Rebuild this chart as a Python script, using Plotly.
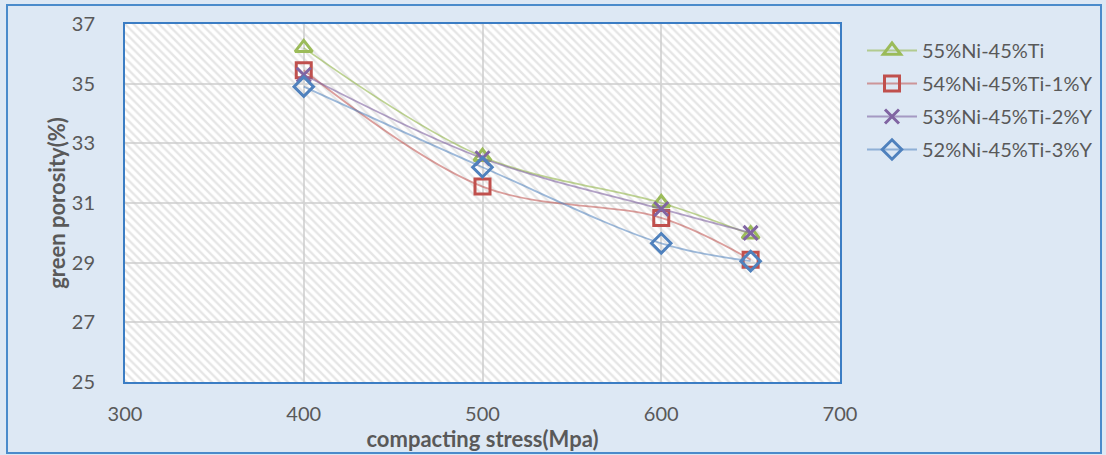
import plotly.graph_objects as go

stress = [400, 500, 600, 650]
s55 = [36.2, 32.55, 31.0, 29.95]
s54 = [35.45, 31.55, 30.5, 29.1]
s53 = [35.3, 32.5, 30.8, 30.0]
s52 = [34.9, 32.2, 29.65, 29.05]
names = ["55%Ni-45%Ti", "54%Ni-45%Ti-1%Y", "53%Ni-45%Ti-2%Y", "52%Ni-45%Ti-3%Y"]

X_RANGE = [300, 700]
Y_RANGE = [25, 37]
X_TICKS = [300, 400, 500, 600, 700]
Y_TICKS = [25, 27, 29, 31, 33, 35, 37]

W, H = 1106, 455
L, R, T, B = 125, 266, 24, 73
pw, ph = W - L - R, H - T - B

FONT = "Lato"
fig = go.Figure()

# hatched plot background
fig.add_trace(go.Bar(
    x=[(X_RANGE[0] + X_RANGE[1]) / 2], y=[Y_RANGE[1] - Y_RANGE[0]], base=[Y_RANGE[0]],
    width=[X_RANGE[1] - X_RANGE[0]],
    marker=dict(color="rgba(0,0,0,0)", line=dict(width=0),
                pattern=dict(shape="\\", fgcolor="#cccccc", size=6, solidity=0.4)),
    showlegend=False, hoverinfo="skip"))

series = [
    (s55, "#9bbb59", "rgba(155,187,89,0.65)", "triangle-up-open", 15),
    (s54, "#c0504d", "rgba(192,80,77,0.55)", "square-open", 15),
    (s53, "#8064a2", "rgba(128,100,162,0.6)", "x-thin-open", 14),
    (s52, "#4f81bd", "rgba(79,129,189,0.55)", "diamond-open", 15),
]
for i, ((vals, mc, lc, sym, sz), nm) in enumerate(zip(series, names)):
    fig.add_trace(go.Scatter(
        x=stress, y=vals, name=nm, mode="lines+markers", legendgroup=f"g{i}",
        line=dict(color=lc, width=1.8, shape="spline", smoothing=1.0),
        marker=dict(symbol=sym, size=sz, color=mc, line=dict(color=mc, width=3)),
    ))

fig.update_layout(
    width=W, height=H,
    margin=dict(l=L, r=R, t=T, b=B, pad=0, autoexpand=False),
    paper_bgcolor="#dde8f4", plot_bgcolor="white",
    font=dict(family=FONT, size=20, color="#595959"),
    showlegend=True,
    legend=dict(x=862 / W, y=1 - 31 / H, xref="container", yref="container",
                xanchor="left", yanchor="top",
                bgcolor="rgba(0,0,0,0)", font=dict(size=20, color="#595959"),
                itemwidth=50, tracegroupgap=4),
    bargap=0,
)
fig.update_xaxes(range=X_RANGE, tickvals=X_TICKS, showgrid=True, gridcolor="#d9d9d9", gridwidth=1.5,
                 showline=True, mirror=True, linecolor="#3b7dc4", linewidth=2, zeroline=False,
                 ticks="", ticklabelstandoff=13, automargin=False,
                 title=dict(text="<b>compacting stress(Mpa)</b>",
                            font=dict(family=FONT, size=22, color="#595959"), standoff=5))
fig.update_yaxes(range=Y_RANGE, tickvals=Y_TICKS, showgrid=True, gridcolor="#d9d9d9", gridwidth=1.5,
                 showline=True, mirror=True, linecolor="#3b7dc4", linewidth=2, zeroline=False,
                 ticks="", ticklabelstandoff=24, automargin=False,
                 title=dict(text="<b>green porosity(%)</b>",
                            font=dict(family=FONT, size=22, color="#595959"), standoff=0))

fig.add_shape(type="rect", xref="paper", yref="paper",
              x0=(7 - L) / pw, x1=(1101 - L) / pw, y0=(H - B - 453) / ph, y1=(H - B - 5) / ph,
              line=dict(color="#4a8bcb", width=2), fillcolor="rgba(0,0,0,0)", layer="below")

fig.write_html("out.html")
